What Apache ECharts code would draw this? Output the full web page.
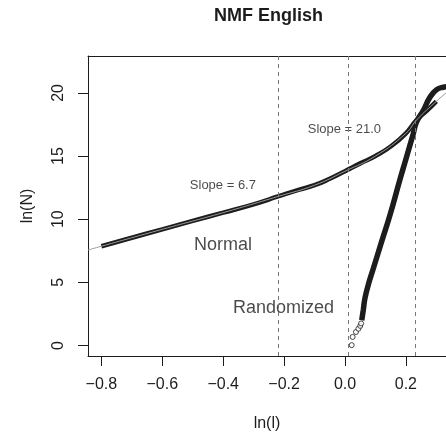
<!DOCTYPE html>
<html>
<head>
<meta charset="utf-8">
<script src="https://cdn.jsdelivr.net/npm/echarts@6/dist/echarts.min.js"></script>
<style>
  html, body { margin: 0; padding: 0; background: #fff; }
  #main { width: 446px; height: 437px; }
</style>
</head>
<body>
<div id="main"></div>
<script>
// tick labels
var xTicks = [-0.8, -0.6, -0.4, -0.2, 0.0, 0.2];
var yTicks = [0, 5, 10, 15, 20];

// breakpoints (dashed verticals)
var breakX = [-0.221, 0.008, 0.235];

// Normal text, ln(l) vs ln(N)
var normalX = [-0.80, -0.70, -0.60, -0.50, -0.40, -0.30, -0.22, -0.15, -0.10, -0.05, 0.00, 0.05, 0.10, 0.15, 0.20, 0.235, 0.27, 0.30];
var normalY = [7.86, 8.53, 9.20, 9.87, 10.52, 11.18, 11.80, 12.34, 12.69, 13.20, 13.80, 14.42, 15.00, 15.75, 16.80, 17.85, 18.62, 19.33];

// fitted curve (thin grey), slightly longer than the data
var fitX = [-0.844, -0.80, -0.60, -0.40, -0.22, -0.10, 0.00, 0.10, 0.20, 0.235, 0.30, 0.342];
var fitY = [7.56, 7.86, 9.20, 10.52, 11.80, 12.69, 13.80, 15.00, 16.80, 17.85, 19.33, 20.20];

// Randomized text: sparse low points + dense body
var randPtX = [0.022, 0.025, 0.036, 0.044, 0.050, 0.053];
var randPtY = [0.03, 0.68, 1.07, 1.33, 1.55, 1.75];
var randX = [0.055, 0.060, 0.066, 0.080, 0.093, 0.12, 0.148, 0.18, 0.20, 0.224, 0.235, 0.257, 0.279, 0.301, 0.323, 0.342];
var randY = [2.00, 2.80, 3.80, 5.10, 6.10, 8.20, 10.35, 13.10, 14.75, 16.75, 17.70, 18.60, 19.65, 20.26, 20.45, 20.50];

// annotations
var noteText = ['Slope = 21.0', 'Slope = 6.7', 'Normal', 'Randomized'];
var noteX = [-0.002, -0.401, -0.401, -0.202];
var noteY = [17.13, 12.66, 7.96, 2.95];
var noteSize = [13, 13, 18, 18];

var FONT = '"Liberation Sans", Arial, Helvetica, sans-serif';
var INK = '#1c1c1c';
var X_MIN = -0.844, X_MAX = 0.3317;

function zip(xs, ys) {
    return xs.map(function (x, i) { return [x, ys[i]]; });
}

var myChart = echarts.init(document.getElementById('main'));

var option = {
    animation: false,
    backgroundColor: '#fff',
    textStyle: { fontFamily: FONT },
    title: {
        text: 'NMF English',
        left: 214,
        top: 7,
        padding: 0,
        textStyle: { fontSize: 18, fontWeight: 'bold', color: INK, fontFamily: FONT }
    },
    grid: {
        left: 88,
        top: 56,
        right: 0,
        bottom: 78,
        show: false
    },
    xAxis: [
        {
            type: 'value',
            min: X_MIN,
            max: X_MAX,
            name: 'ln(l)',
            nameLocation: 'middle',
            nameGap: 60,
            nameTextStyle: { fontSize: 16, color: INK, fontFamily: FONT },
            splitLine: { show: false },
            axisLine: { show: true, onZero: false, lineStyle: { color: INK } },
            axisTick: {
                show: true,
                length: 10,
                customValues: xTicks,
                lineStyle: { color: INK }
            },
            axisLabel: {
                customValues: xTicks,
                fontSize: 16,
                color: INK,
                margin: 21,
                formatter: function (v) {
                    return v.toFixed(1).replace('-', '\u2212');
                }
            }
        },
        {
            // top edge of the box
            type: 'value',
            position: 'top',
            min: X_MIN,
            max: X_MAX,
            splitLine: { show: false },
            axisLine: { show: true, onZero: false, lineStyle: { color: INK } },
            axisTick: { show: false },
            axisLabel: { show: false }
        }
    ],
    yAxis: {
        type: 'value',
        min: -0.83,
        max: 22.92,
        name: 'ln(N)',
        nameLocation: 'middle',
        nameGap: 52,
        nameRotate: 90,
        nameTextStyle: { fontSize: 16, color: INK, fontFamily: FONT },
        splitLine: { show: false },
        axisLine: { show: true, onZero: false, lineStyle: { color: INK } },
        axisTick: {
            show: true,
            length: 10,
            customValues: yTicks,
            lineStyle: { color: INK }
        },
        axisLabel: {
            customValues: yTicks,
            fontSize: 16,
            color: INK,
            margin: 21,
            rotate: 90
        }
    },
    series: [
        {
            name: 'Normal',
            type: 'line',
            data: zip(normalX, normalY),
            showSymbol: false,
            smooth: true,
            lineStyle: { color: INK, width: 4.5 },
            markLine: {
                silent: true,
                symbol: 'none',
                label: { show: false },
                lineStyle: { color: '#777', width: 1, type: [4, 4] },
                data: breakX.map(function (x) { return { xAxis: x }; })
            }
        },
        {
            name: 'Randomized',
            type: 'line',
            data: zip(randX, randY),
            showSymbol: false,
            smooth: true,
            lineStyle: { color: INK, width: 5.5 }
        },
        {
            name: 'Randomized points',
            type: 'scatter',
            data: zip(randPtX, randPtY),
            symbol: 'circle',
            symbolSize: 5,
            itemStyle: { color: '#fff', borderColor: INK, borderWidth: 1 }
        },
        {
            name: 'Fit',
            type: 'line',
            data: zip(fitX, fitY),
            showSymbol: false,
            smooth: true,
            lineStyle: { color: '#9a9a9a', width: 1 }
        },
        {
            name: 'Notes',
            type: 'scatter',
            symbolSize: 0,
            silent: true,
            data: noteText.map(function (t, i) {
                return {
                    value: [noteX[i], noteY[i]],
                    label: {
                        show: true,
                        position: 'inside',
                        formatter: t,
                        fontSize: noteSize[i],
                        color: INK,
                        fontFamily: FONT
                    }
                };
            })
        }
    ]
};

myChart.setOption(option);
</script>
</body>
</html>
